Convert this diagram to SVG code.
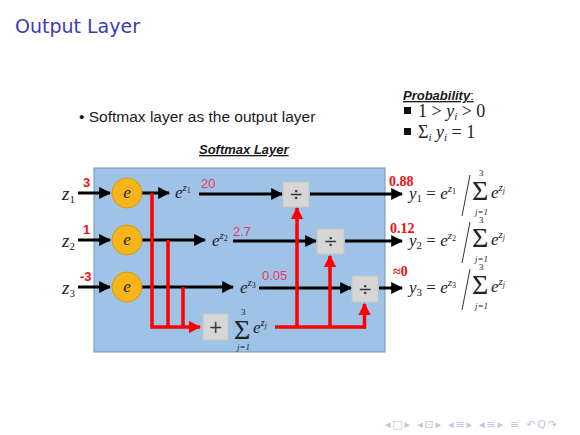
<svg xmlns="http://www.w3.org/2000/svg" width="580" height="435" viewBox="0 0 580 435">
<defs>
<style>
.title{font-family:"DejaVu Sans","Liberation Sans",sans-serif;font-size:19px;fill:#3b3bb3}
.body{font-family:"Liberation Sans",Arial,sans-serif;font-size:15.5px;fill:#1a1a1a}
.hd{font-family:"Liberation Sans",Arial,sans-serif;font-size:13px;font-weight:bold;font-style:italic;fill:#1a1a1a;text-decoration:underline}
.m{font-family:"Liberation Serif","Times New Roman",serif;font-size:17px;fill:#222}
.mi{font-style:italic}
.sig{font-size:28px}
.lim{font-size:9px}
.sup{font-size:11px}
.ssub{font-size:8px}
.lab{font-family:"Liberation Sans",Arial,sans-serif;font-size:13px;font-weight:bold;fill:#ee1111}
.pk{font-family:"Liberation Sans",Arial,sans-serif;font-size:13px;fill:#e6336a}
.rv{font-family:"Liberation Serif","Times New Roman",serif;font-size:14px;font-weight:bold;fill:#ee1111}
.blk{stroke:#000;stroke-width:3;fill:none}
.red{stroke:#ff0000;stroke-width:3.5;fill:none}
.circ{fill:#f7b51c;stroke:#d69a10;stroke-width:1}
.box{fill:#d6d6d6;stroke:#c4c4c4;stroke-width:1}
.op{font-family:"DejaVu Sans",sans-serif;font-size:17px;fill:#333;text-anchor:middle}
.nav{font-family:"DejaVu Sans",sans-serif;font-size:11px;fill:#c4c4e0;letter-spacing:1.8px}
</style>
<marker id="ab" viewBox="0 0 10 10" refX="9" refY="5" markerWidth="4" markerHeight="4" orient="auto" markerUnits="strokeWidth"><path d="M0,0L10,5L0,10z" fill="#000"/></marker>
<marker id="ar" viewBox="0 0 10 10" refX="9" refY="5" markerWidth="3.5" markerHeight="3.5" orient="auto" markerUnits="strokeWidth"><path d="M0,0L10,5L0,10z" fill="#ff0000"/></marker>
</defs>
<rect width="580" height="435" fill="#fff"/>
<text class="title" x="15" y="33">Output Layer</text>
<text class="body" x="79" y="122">• Softmax layer as the output layer</text>
<text class="hd" x="199" y="154">Softmax Layer</text>
<g id="probability">
<text class="hd" x="403" y="100">Probability<tspan text-decoration="none" font-weight="normal" font-style="normal">:</tspan></text>
<rect x="404" y="107" width="7" height="7" fill="#111"/>
<text class="m" x="418" y="117" style="font-size:18px">1 &gt; <tspan class="mi">y</tspan><tspan class="mi" style="font-size:11px" dy="3">i</tspan><tspan dy="-3"> &gt; 0</tspan></text>
<rect x="404" y="128" width="7" height="7" fill="#111"/>
<text class="m" x="418" y="138" style="font-size:18px">Σ<tspan class="mi" style="font-size:11px" dy="3">i</tspan><tspan class="mi" dy="-3"> y</tspan><tspan class="mi" style="font-size:11px" dy="3">i</tspan><tspan dy="-3"> = 1</tspan></text>
</g>
<rect id="layer" x="94" y="168" width="291" height="184" fill="#9fc3e7" stroke="#7294bb" stroke-width="1"/>
<g id="connectors">
<line class="blk" x1="78" y1="193" x2="110" y2="193" marker-end="url(#ab)"/>
<line class="blk" x1="78" y1="240" x2="110" y2="240" marker-end="url(#ab)"/>
<line class="blk" x1="78" y1="287" x2="110" y2="287" marker-end="url(#ab)"/>
<line class="blk" x1="142" y1="193" x2="169" y2="193" marker-end="url(#ab)"/>
<line class="blk" x1="142" y1="240" x2="205" y2="240" marker-end="url(#ab)"/>
<line class="blk" x1="142" y1="287" x2="233" y2="287" marker-end="url(#ab)"/>
<line class="blk" x1="199" y1="194" x2="282" y2="194" marker-end="url(#ab)"/>
<line class="blk" x1="233" y1="241" x2="316" y2="241" marker-end="url(#ab)"/>
<line class="blk" x1="259" y1="288" x2="351" y2="288" marker-end="url(#ab)"/>
<line class="blk" x1="310" y1="194" x2="402" y2="194" marker-end="url(#ab)"/>
<line class="blk" x1="345" y1="241" x2="402" y2="241" marker-end="url(#ab)"/>
<line class="blk" x1="379" y1="288" x2="402" y2="288" marker-end="url(#ab)"/>
<polyline class="red" points="152,193 152,327"/>
<polyline class="red" points="168,240 168,327"/>
<polyline class="red" points="183,287 183,327"/>
<line class="red" x1="150.5" y1="327" x2="200" y2="327" marker-end="url(#ar)"/>
<line class="red" x1="275" y1="327" x2="366" y2="327"/>
<line class="red" x1="297" y1="327" x2="297" y2="208" marker-end="url(#ar)"/>
<line class="red" x1="330" y1="327" x2="330" y2="256" marker-end="url(#ar)"/>
<line class="red" x1="364.5" y1="328.7" x2="364.5" y2="304" marker-end="url(#ar)"/>
</g>
<g id="inputs">
<text class="m" x="62" y="200" style="font-size:19px"><tspan class="mi">z</tspan><tspan style="font-size:11px" dy="3">1</tspan></text>
<text class="m" x="62" y="247" style="font-size:19px"><tspan class="mi">z</tspan><tspan style="font-size:11px" dy="3">2</tspan></text>
<text class="m" x="62" y="294" style="font-size:19px"><tspan class="mi">z</tspan><tspan style="font-size:11px" dy="3">3</tspan></text>
<text class="lab" x="83" y="187">3</text>
<text class="lab" x="83" y="234">1</text>
<text class="lab" x="80" y="281">-3</text>
</g>
<g id="exp1"><circle class="circ" cx="127" cy="193" r="15"/><text class="m mi" x="127" y="198" text-anchor="middle">e</text></g>
<g id="exp2"><circle class="circ" cx="127" cy="240" r="15"/><text class="m mi" x="127" y="245" text-anchor="middle">e</text></g>
<g id="exp3"><circle class="circ" cx="127" cy="287" r="15"/><text class="m mi" x="127" y="292" text-anchor="middle">e</text></g>
<g id="e1"><text class="m" x="175" y="198"><tspan class="mi">e</tspan><tspan class="mi sup" dy="-7">z</tspan><tspan class="ssub" dy="2">1</tspan></text><text class="pk" x="201" y="188">20</text></g>
<g id="e2"><text class="m" x="212" y="246"><tspan class="mi">e</tspan><tspan class="mi sup" dy="-7">z</tspan><tspan class="ssub" dy="2">2</tspan></text><text class="pk" x="233" y="236">2.7</text></g>
<g id="e3"><text class="m" x="240" y="293"><tspan class="mi">e</tspan><tspan class="mi sup" dy="-7">z</tspan><tspan class="ssub" dy="2">3</tspan></text><text class="pk" x="262" y="280">0.05</text></g>
<g id="div1"><rect class="box" x="283" y="182" width="26" height="25"/><text class="op" x="296" y="200">÷</text></g>
<g id="div2"><rect class="box" x="317" y="229" width="27" height="25"/><text class="op" x="330.5" y="247">÷</text></g>
<g id="div3"><rect class="box" x="352" y="276" width="26" height="26"/><text class="op" x="365" y="295">÷</text></g>
<g id="sum"><rect class="box" x="203" y="314" width="25" height="26"/><text class="op" x="215.5" y="333">+</text>
<text class="m sig" x="234" y="339">Σ</text>
<text class="m lim" x="241" y="315">3</text>
<text class="m mi lim" x="237" y="350">j=1</text>
<text class="m" x="253" y="333"><tspan class="mi">e</tspan><tspan class="mi sup" dy="-7">z</tspan><tspan class="mi ssub" dy="2">j</tspan></text></g>
<g id="out1"><text class="rv" x="389" y="186">0.88</text>
<text class="m" x="409" y="199"><tspan class="mi">y</tspan><tspan class="sup" dy="3">1</tspan><tspan dy="-3"> = </tspan><tspan class="mi">e</tspan><tspan class="mi sup" dy="-7">z</tspan><tspan class="ssub" dy="2">1</tspan></text>
<line x1="462" y1="216" x2="470" y2="175" stroke="#333" stroke-width="1"/>
<text class="m sig" x="472" y="200">Σ</text><text class="m lim" x="479" y="176">3</text><text class="m mi lim" x="475" y="215">j=1</text>
<text class="m" x="491" y="198"><tspan class="mi">e</tspan><tspan class="mi sup" dy="-7">z</tspan><tspan class="mi ssub" dy="2">j</tspan></text></g>
<g id="out2"><text class="rv" x="390" y="233">0.12</text>
<text class="m" x="409" y="246"><tspan class="mi">y</tspan><tspan class="sup" dy="3">2</tspan><tspan dy="-3"> = </tspan><tspan class="mi">e</tspan><tspan class="mi sup" dy="-7">z</tspan><tspan class="ssub" dy="2">2</tspan></text>
<line x1="462" y1="263" x2="470" y2="222" stroke="#333" stroke-width="1"/>
<text class="m sig" x="472" y="247">Σ</text><text class="m lim" x="479" y="223">3</text><text class="m mi lim" x="475" y="262">j=1</text>
<text class="m" x="491" y="245"><tspan class="mi">e</tspan><tspan class="mi sup" dy="-7">z</tspan><tspan class="mi ssub" dy="2">j</tspan></text></g>
<g id="out3"><text class="rv" x="393" y="276">≈0</text>
<text class="m" x="409" y="293"><tspan class="mi">y</tspan><tspan class="sup" dy="3">3</tspan><tspan dy="-3"> = </tspan><tspan class="mi">e</tspan><tspan class="mi sup" dy="-7">z</tspan><tspan class="ssub" dy="2">3</tspan></text>
<line x1="462" y1="310" x2="470" y2="269" stroke="#333" stroke-width="1"/>
<text class="m sig" x="472" y="294">Σ</text><text class="m lim" x="479" y="270">3</text><text class="m mi lim" x="475" y="309">j=1</text>
<text class="m" x="491" y="292"><tspan class="mi">e</tspan><tspan class="mi sup" dy="-7">z</tspan><tspan class="mi ssub" dy="2">j</tspan></text></g>
<g id="nav">
<text class="nav" x="385" y="428">◂□▸ ◂⊡▸ ◂≡▸ ◂≡▸  ≡  ↶Q↷</text>
</g>
</svg>
